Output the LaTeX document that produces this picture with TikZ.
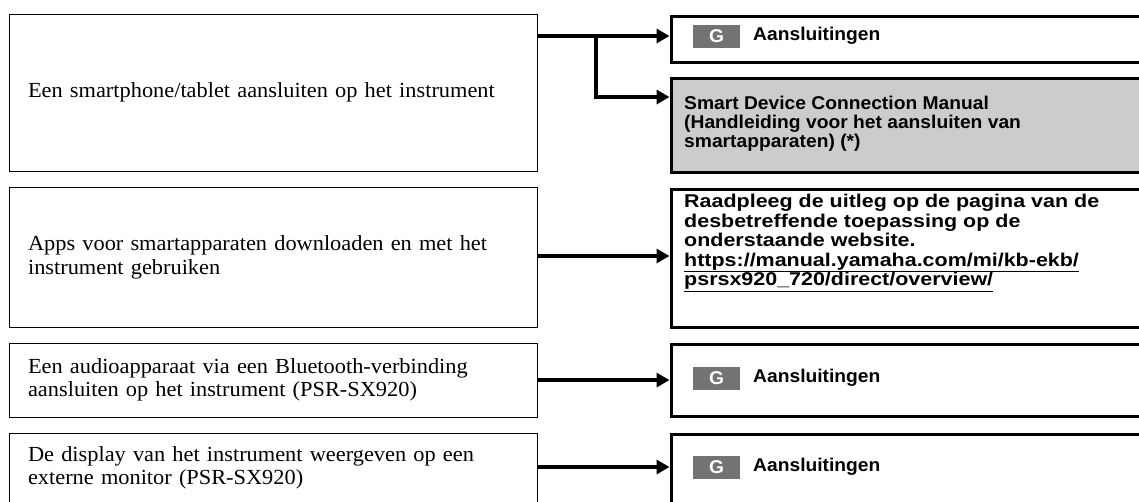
\documentclass[tikz,border=0pt]{standalone}
\usepackage{fontspec}
\newfontfamily\lserif[FakeStretch=1.04]{Liberation Serif}
\newfontfamily\rsansA[FakeStretch=1.16]{Liberation Sans}
\newfontfamily\rsansB[FakeStretch=1.04]{Liberation Sans}
\usetikzlibrary{arrows.meta}
\definecolor{badgegray}{HTML}{737373}
\definecolor{boxgray}{HTML}{CCCCCC}
\begin{document}
\begin{tikzpicture}[x=1pt,y=-1pt,
  lbox/.style={draw,line width=1.1pt,anchor=north west,inner xsep=19pt,inner ysep=0pt,
    align=left,text width=490pt,font=\lserif\fontsize{21.5}{23.5}\selectfont},
  rbox/.style={draw,line width=3pt,anchor=north west,inner sep=0pt},
  rtext/.style={inner sep=0pt,align=left,anchor=west},
  gfont/.style={font=\rsansB\bfseries\fontsize{18.5}{19.5}\selectfont},
  gbadge/.style={gfont,fill=badgegray,text=white,minimum width=47pt,minimum height=23pt,inner sep=0pt},
  arr/.style={line width=3.5pt,-{Triangle[length=13pt,width=14pt]}}]
\useasboundingbox (0,0) rectangle (1139,501);
\clip (0,0) rectangle (1139,501);
% left boxes
\node[lbox,minimum height=157.5pt] (l1) at (8.5,13.5) {Een smartphone/tablet aansluiten op het instrument};
\node[lbox,minimum height=140pt] (l2) at (8.5,187) {Apps voor smartapparaten downloaden en met het\\instrument gebruiken};
\node[lbox,minimum height=74pt] (l3) at (8.5,342.5) {Een audioapparaat via een Bluetooth-verbinding\\aansluiten op het instrument (PSR-SX920)};
\node[lbox,minimum height=69.5pt] (l4) at (8.5,432.5) {De display van het instrument weergeven op een\\externe monitor (PSR-SX920)};
% right boxes
\node[rbox,minimum width=490pt,minimum height=46.5pt] (r1) at (669.5,14.5) {};
\node[rbox,fill=boxgray,minimum width=490pt,minimum height=93.5pt] (r2) at (669.5,77) {};
\node[rbox,minimum width=490pt,minimum height=138.5pt] (r3) at (669.5,187.5) {};
\node[rbox,minimum width=490pt,minimum height=72pt] (r4) at (669.5,343) {};
\node[rbox,minimum width=490pt,minimum height=69pt] (r5) at (669.5,433) {};
% right texts
\node[gbadge] (g1) at (716.5,36) {G};
\node[rtext,gfont] (t1) at (753,36) {Aansluitingen};
\node[rtext,font=\rsansB\bfseries\fontsize{18.5}{19.2}\selectfont] (t2) at (684,123.5) {Smart Device Connection Manual\\(Handleiding voor het aansluiten van\\smartapparaten) (*)};
\node[rtext,font=\rsansA\bfseries\fontsize{18.5}{19.6}\selectfont] (t3) at (684,243) {Raadpleeg de uitleg op de pagina van de\\desbetreffende toepassing op de\\onderstaande website.\\\underline{https://manual.yamaha.com/mi/kb-ekb/}\\\underline{psrsx920\_720/direct/overview/}};
\node[gbadge] (g4) at (716.5,378) {G};
\node[rtext,gfont] (t4) at (753,378) {Aansluitingen};
\node[gbadge] (g5) at (716.5,467) {G};
\node[rtext,gfont] (t5) at (753,467) {Aansluitingen};
% connectors
\coordinate (split) at (596,36);
\draw[arr] (l1.east |- split) -- (r1.west |- split);
\draw[arr] (split) |- ([yshift=-20pt]r2.north west);
\draw[arr] (l2.east |- 0,256) -- (r3.west |- 0,256);
\draw[arr] (l3.east) -- (r4.west |- l3.east);
\draw[arr] (l4.east |- 0,467) -- (r5.west |- 0,467);
\end{tikzpicture}
\end{document}
